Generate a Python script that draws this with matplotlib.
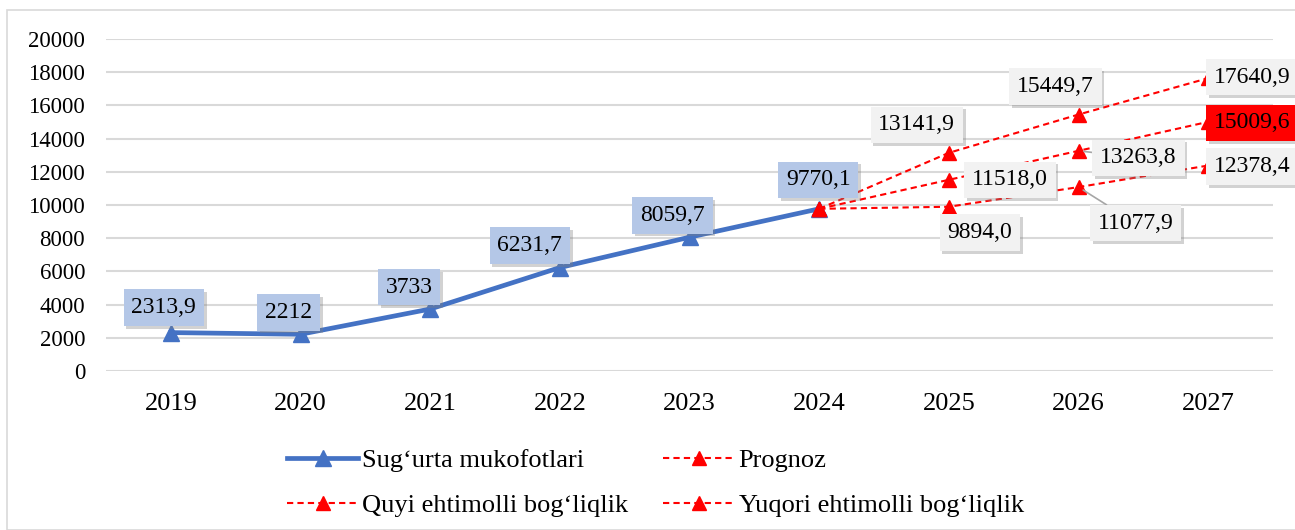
import matplotlib.pyplot as plt
import matplotlib.patheffects as pe
from matplotlib.patches import Rectangle

# ─── Data ──────────────────────────────────────────────────────────────────────
years = ["2019", "2020", "2021", "2022", "2023", "2024", "2025", "2026", "2027"]

actual_years = ["2019", "2020", "2021", "2022", "2023", "2024"]
actual_vals = [2313.9, 2212, 3733, 6231.7, 8059.7, 9770.1]
actual_text = ["2313,9", "2212", "3733", "6231,7", "8059,7", "9770,1"]

fc_years = ["2024", "2025", "2026", "2027"]
prognoz = [9770.1, 11518.0, 13263.8, 15009.6]
quyi = [9770.1, 9894.0, 11077.9, 12378.4]
yuqori = [9770.1, 13141.9, 15449.7, 17640.9]

prognoz_text = ["11518,0", "13263,8", "15009,6"]
quyi_text = ["9894,0", "11077,9", "12378,4"]
yuqori_text = ["13141,9", "15449,7", "17640,9"]

# ─── Style ─────────────────────────────────────────────────────────────────────
plt.rcParams["font.family"] = ["Liberation Serif", "DejaVu Serif"]
FS = 17
BLUE = "#4472C4"
BOX_BLUE = "#B4C7E7"
BOX_GRAY = "#F2F2F2"
GRID = "#D9D9D9"

fig = plt.figure(figsize=(12.95, 5.30), dpi=100)
ax = fig.add_axes([106 / 1295, 1 - 371 / 530, (1273 - 106) / 1295, (371 - 39) / 530])

fig.patches.append(Rectangle((7 / 1295, 0), 1.2, 1 - 10 / 530, transform=fig.transFigure,
                             fill=False, edgecolor=GRID, linewidth=1.2))

xi = {y: i for i, y in enumerate(years)}
ax_x = [xi[y] for y in actual_years]
fc_x = [xi[y] for y in fc_years]

l_act, = ax.plot(ax_x, actual_vals, color=BLUE, lw=3.4, marker="^", ms=11,
                 label="Sug\u2018urta mukofotlari", zorder=3)
dash = dict(color="red", lw=1.5, ls=(0, (3, 2)), marker="^", ms=10, zorder=4)
l_prog, = ax.plot(fc_x, prognoz, label="Prognoz", **dash)
l_quyi, = ax.plot(fc_x, quyi, label="Quyi ehtimolli bog\u2018liqlik", **dash)
l_yuq, = ax.plot(fc_x, yuqori, label="Yuqori ehtimolli bog\u2018liqlik", **dash)

ax.set_xlim(-0.5, len(years) - 0.5)
ax.set_ylim(0, 20000)
ax.set_yticks(range(0, 20001, 2000))
ax.set_xticks(range(len(years)))
ax.set_xticklabels(years)
ax.tick_params(length=0)
ax.tick_params(axis="y", pad=15, labelsize=16.5)
ax.tick_params(axis="x", pad=16, labelsize=19)
ax.grid(axis="y", color=GRID, lw=1.5)
ax.set_axisbelow(True)
for s in ax.spines.values():
    s.set_visible(False)

shadow = [pe.withSimplePatchShadow(offset=(2, -2), shadow_rgbFace="#7F7F7F", alpha=0.35),
          pe.Normal()]


def label(x, y, txt, dx, dy, face, leader=False):
    kw = {}
    if leader:
        kw["arrowprops"] = dict(arrowstyle="-", color="#A6A6A6", lw=1.2,
                                shrinkA=0, shrinkB=4)
    a = ax.annotate(txt, (x, y), xytext=(dx, dy), textcoords="offset pixels",
                    ha="center", va="center", fontsize=FS, zorder=6,
                    annotation_clip=False,
                    bbox=dict(boxstyle="square,pad=0.33", fc=face, ec="none"), **kw)
    a.get_bbox_patch().set_path_effects(shadow)
    return a


act_off = [(-7, 25), (-12, 22), (-21, 22), (-30, 22), (-17, 22), (-1, 29)]
for x, v, t, (dx, dy) in zip(ax_x, actual_vals, actual_text, act_off):
    label(x, v, t, dx, dy, BOX_BLUE)

yuq_off = [(-32, 28), (-23, 28), (44, 1)]
for x, v, t, (dx, dy) in zip(fc_x[1:], yuqori[1:], yuqori_text, yuq_off):
    label(x, v, t, dx, dy, BOX_GRAY)

prog_off = [(61, 0), (60, -7), (44, -1)]
prog_face = [BOX_GRAY, BOX_GRAY, "red"]
prog_lead = [False, True, False]
for x, v, t, (dx, dy), f, ld in zip(fc_x[1:], prognoz[1:], prognoz_text, prog_off,
                                     prog_face, prog_lead):
    label(x, v, t, dx, dy, f, ld)

quyi_off = [(31, -26), (57, -36), (44, -1)]
quyi_lead = [False, True, False]
for x, v, t, (dx, dy), ld in zip(fc_x[1:], quyi[1:], quyi_text, quyi_off, quyi_lead):
    label(x, v, t, dx, dy, BOX_GRAY, ld)

# legend: row 1 = actual, prognoz; row 2 = quyi, yuqori (columns fill first)
handles = [l_act, l_quyi, l_prog, l_yuq]
fig.legend(handles, [h.get_label() for h in handles],
           loc="upper left", bbox_to_anchor=(287 / 1295, 1 - 449 / 530), ncol=2,
           frameon=False, fontsize=19, handlelength=2.7, handletextpad=0.15,
           columnspacing=1.33, labelspacing=0.81, borderpad=0, borderaxespad=0)

fig.savefig("out.png", dpi=100)
